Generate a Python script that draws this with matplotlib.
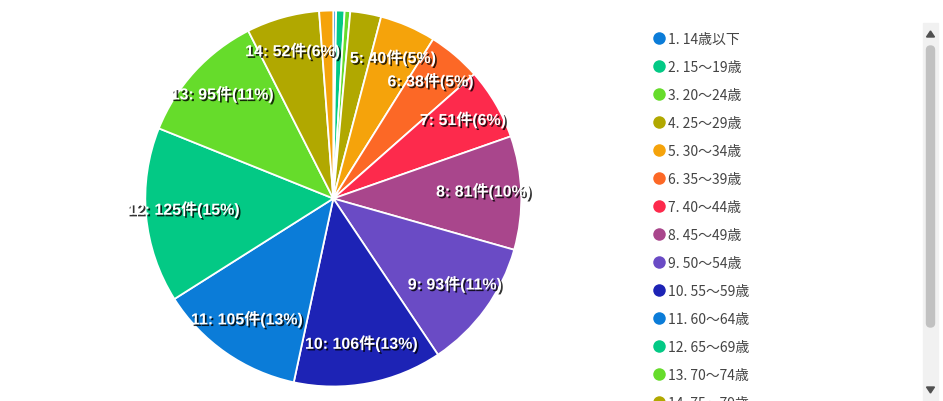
import matplotlib.pyplot as plt
import matplotlib.patheffects as pe
from matplotlib.patches import FancyBboxPatch, Rectangle, Polygon
from matplotlib.transforms import ScaledTranslation

plt.rcParams['font.family'] = ['Noto Sans CJK JP', 'DejaVu Sans']

# data
ids = list(range(1, 16))
age_labels = ['14歳以下', '15〜19歳', '20〜24歳', '25〜29歳', '30〜34歳', '35〜39歳',
              '40〜44歳', '45〜49歳', '50〜54歳', '55〜59歳', '60〜64歳', '65〜69歳',
              '70〜74歳', '75〜79歳', '80歳以上']
counts = [2, 6, 4, 22, 40, 38, 51, 81, 93, 106, 105, 125, 95, 52, 10]

palette = ['#0b7cd8', '#03c985', '#66dc2b', '#b1a800', '#f5a30b', '#fc6826',
           '#fd2a4c', '#a9468c', '#6a4bc5', '#1d23b5']
colors = [palette[i % len(palette)] for i in range(len(counts))]

total = sum(counts)
pie_labels = []
for i, v in zip(ids, counts):
    pct = v / total * 100
    pie_labels.append(f'{i}: {v}件({pct:.0f}%)' if pct >= 4 else '')

W, H = 943, 402
fig = plt.figure(figsize=(W / 100, H / 100), dpi=100)

# pie: centre ~ (333, 199.5) px, radius ~188 px
r = 188
cx, cy = 333.3, 199.5
ax = fig.add_axes([(cx - r) / W, (H - cy - r) / H, 2 * r / W, 2 * r / H])
wedges, texts = ax.pie(counts, colors=colors, startangle=90, counterclock=False,
                       labels=pie_labels, labeldistance=0.8,
                       wedgeprops=dict(edgecolor='white', linewidth=1.3))
lift = ScaledTranslation(0, 3 / 100, fig.dpi_scale_trans)
for t in texts:
    t.set_ha('center')
    t.set_va('center')
    t.set_color('white')
    t.set_fontweight('bold')
    t.set_fontsize(11.5)
    t.set_family(['Liberation Sans', 'Noto Sans CJK JP'])
    t.set_transform(t.get_transform() + lift)
    t.set_path_effects([pe.withSimplePatchShadow(offset=(1.2, -1.2), shadow_rgbFace='black', alpha=0.8)])
ax.set_xlim(-1, 1)
ax.set_ylim(-1, 1)
ax.axis('off')

# legend + scrollbar drawn in pixel coordinates
ov = fig.add_axes([0, 0, 1, 1], zorder=-1)
ov.set_xlim(0, W)
ov.set_ylim(H, 0)
ov.axis('off')

y0, step = 38.5, 28.06
for k, (i, name) in enumerate(zip(ids, age_labels)):
    y = y0 + k * step
    ov.plot(659, y, 'o', ms=9, color=colors[k], mec='none')
    ov.text(668, y + 1, f'{i}. {name}', fontsize=10, color='#444444', va='center', ha='left')

ov.add_patch(Rectangle((922.5, 24), 15, H - 24, color='#f1f1f1', zorder=3))
ov.add_patch(FancyBboxPatch((926.5, 47), 8, 281, boxstyle='round,pad=0,rounding_size=4',
                            color='#c1c1c1', zorder=4))
ov.add_patch(Polygon([[926.5, 38], [934.5, 38], [930.5, 32]], color='#505050', zorder=4))
ov.add_patch(Polygon([[926.5, 388], [934.5, 388], [930.5, 394]], color='#505050', zorder=4))

fig.savefig('out.png', dpi=100)
